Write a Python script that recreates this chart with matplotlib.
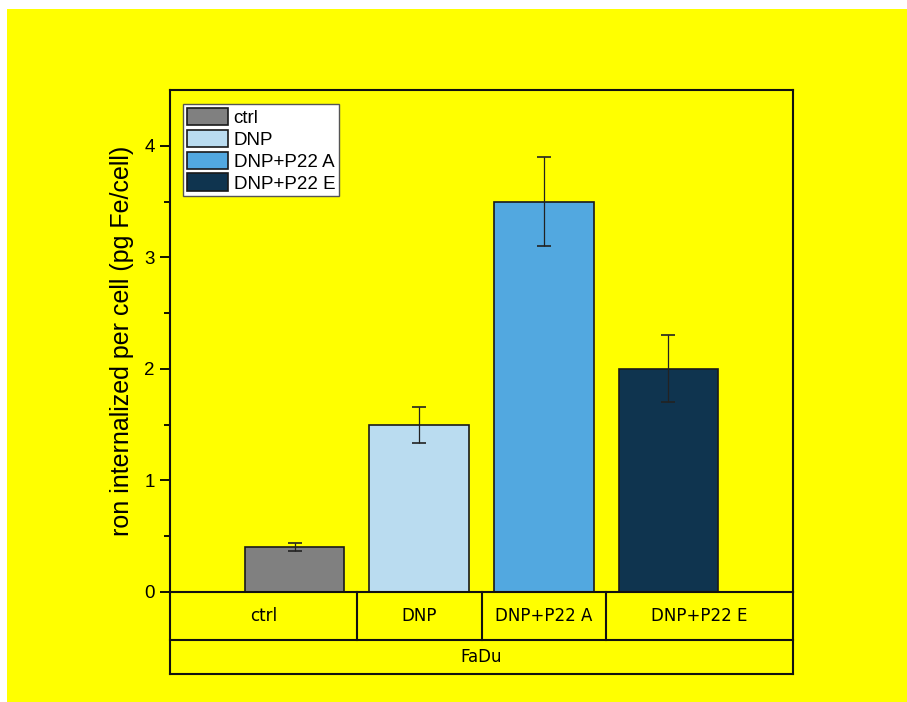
import matplotlib.pyplot as plt
from matplotlib.patches import Rectangle
from matplotlib.transforms import blended_transform_factory

# Datos
groups = ['ctrl', 'DNP', 'DNP+P22 A', 'DNP+P22 E']
values = [0.40, 1.50, 3.50, 2.00]
errors = [0.035, 0.16, 0.40, 0.30]
colors = ['#808080', '#badcf0', '#52a8e0', '#0f344f']
cell_line = 'FaDu'

yellow = '#ffff00'
plt.rcParams['font.family'] = ['Liberation Sans', 'DejaVu Sans']

fig = plt.figure(figsize=(9.07, 7.02), dpi=100)
fig.patch.set_facecolor('white')
# fondo amarillo (deja un borde blanco arriba y a la izquierda)
fig.patches.append(Rectangle((7 / 907, 0), 1, 1 - 9 / 702, transform=fig.transFigure,
                             facecolor=yellow, edgecolor='none', zorder=-10))

ax = fig.add_axes([170 / 907, 1 - 592 / 702, 623 / 907, 502 / 702])
ax.set_facecolor(yellow)

x = list(range(len(groups)))
ax.bar(x, values, width=0.8, color=colors, edgecolor='#1a1a1a', linewidth=1.2,
       label=groups, zorder=2)
ax.errorbar(x, values, yerr=errors, fmt='none', ecolor='#222222', elinewidth=0.9,
            capsize=5, capthick=1.2, zorder=3)

ax.set_xlim(-1, 4)
ax.set_ylim(0, 4.5)
ax.set_yticks([0, 1, 2, 3, 4])
ax.set_yticks([0.5, 1.5, 2.5, 3.5], minor=True)
ax.set_xticks([])
ax.tick_params(axis='y', which='major', direction='out', length=7, width=1.3,
               labelsize=13.5, pad=4)
ax.tick_params(axis='y', which='minor', direction='out', length=4, width=1.3)
for s in ax.spines.values():
    s.set_linewidth(1.5)
    s.set_color('#111111')

ax.set_ylabel('ron internalized per cell (pg Fe/cell)', fontsize=18, labelpad=7)

# Leyenda
leg = ax.legend(loc='upper left', bbox_to_anchor=(13 / 623, 1 - 14 / 502),
                borderaxespad=0, fontsize=13.5, frameon=True, fancybox=False,
                handlelength=2.2, handleheight=1.05, handletextpad=0.3,
                labelspacing=0.15, borderpad=0.2)
leg.get_frame().set_edgecolor('#555555')
leg.get_frame().set_linewidth(1.0)
leg.get_frame().set_facecolor('white')
leg.get_frame().set_alpha(1)

# Tabla de categorias debajo del eje
tr = blended_transform_factory(ax.transData, ax.transAxes)
row1 = -48 / 502
row2 = -82 / 502
kw = dict(transform=ax.transAxes, color='#111111', linewidth=1.5, clip_on=False)
ax.plot([0, 0], [0, row2], **kw)
ax.plot([1, 1], [0, row2], **kw)
ax.plot([0, 1], [row1, row1], **kw)
ax.plot([0, 1], [row2, row2], **kw)
bounds = [-1] + [i + 0.5 for i in x[:-1]] + [4]
for b in bounds[1:-1]:
    ax.plot([b, b], [0, row1], transform=tr, color='#111111', linewidth=1.5, clip_on=False)
for i, g in enumerate(groups):
    cx = (bounds[i] + bounds[i + 1]) / 2
    ax.text(cx, row1 / 2, g, transform=tr, ha='center', va='center',
            fontsize=12, family='DejaVu Sans')
ax.text(0.5, (row1 + row2) / 2, cell_line, transform=ax.transAxes, ha='center',
        va='center', fontsize=12, family='DejaVu Sans')

fig.savefig('out.png', dpi=100, facecolor=fig.get_facecolor())
